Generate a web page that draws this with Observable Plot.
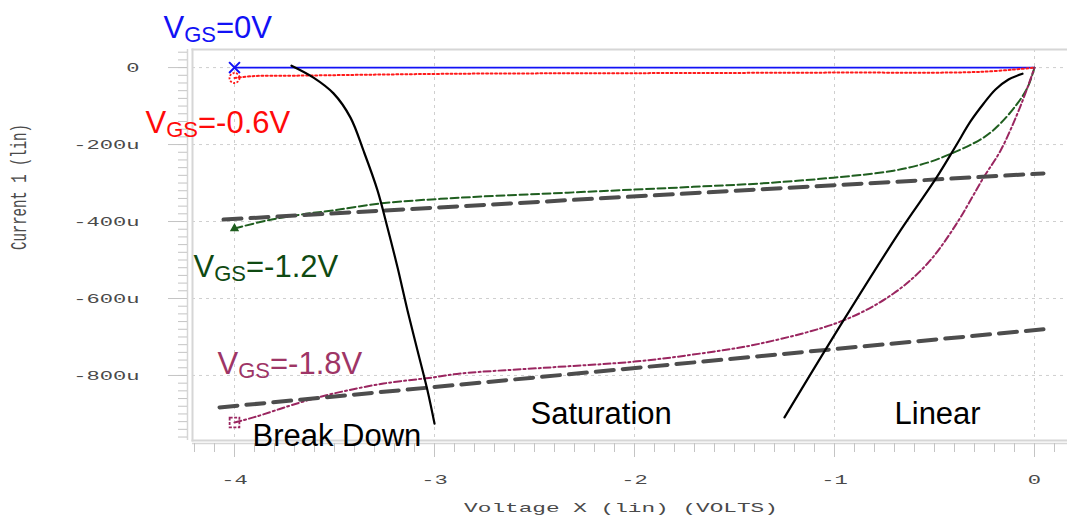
<!DOCTYPE html>
<html><head><meta charset="utf-8">
<script src="https://cdn.jsdelivr.net/npm/d3@7"></script>
<script src="https://cdn.jsdelivr.net/npm/@observablehq/plot@0.6"></script>
<style>body{margin:0;background:#fff;}</style>
</head><body><div id="chart"></div>
<script>
// ---- axis ticks ----
const xMajor = [-4, -3, -2, -1, 0];
const xTickLabels = ["-4", "-3", "-2", "-1", "0"];
const yMajor = [0, -200, -400, -600, -800];
const yTickLabels = ["0", "-200u", "-400u", "-600u", "-800u"];
const xMinor = d3.range(-42, 2).map(i => i / 10);
const yMinor = d3.range(2, -49, -1).map(i => i * 20);

// ---- series (V in volts, I in uA) ----
const vgs0V = [-4, 0];
const vgs0I = [0, 0];
const vgs06V = [-4, -3.9, -3.7, -2.9, -2, -1, -0.27, 0];
const vgs06I = [-27, -22, -21, -16, -14.5, -13, -11, 0];
const vgs12V = [-4, -3.835, -3.67, -3.505, -3.27, -2.87, -2.42, -2, -1.67, -1.37, -1.005, -0.705, -0.535, -0.405, -0.255, -0.17, -0.085, -0.035, 0];
const vgs12I = [-418, -397, -382, -371, -353, -338, -327, -317, -309, -301, -286, -268, -247, -221, -182, -145, -93, -52, 0];
const vgs18V = [-4, -3.905, -3.67, -3.505, -3.255, -3.005, -2.87, -2.42, -2, -1.67, -1.37, -0.955, -0.705, -0.535, -0.395, -0.255, -0.17, -0.085, -0.035, 0];
const vgs18I = [-922, -909, -870, -847, -821, -805, -795, -779, -764, -743, -717, -657, -587, -509, -410, -286, -216, -119, -52, 0];

// ---- annotation lines ----
const tangent12V = [-4.055, 0.045];
const tangent12I = [-395, -275];
const tangent18V = [-4.075, 0.045];
const tangent18I = [-883, -680];
const breakV = [-3.715, -3.605, -3.505, -3.42, -3.355, -3.285, -3.235, -3.185, -3.135, -3.085, -3.035, -3.0];
const breakI = [5, -26, -67, -130, -216, -319, -416, -519, -631, -735, -839, -925];
const linearV = [-1.25, -0.955, -0.67, -0.495, -0.395, -0.32, -0.255, -0.195, -0.13, -0.06];
const linearI = [-909, -657, -423, -290, -205, -140, -94, -57, -31, -16];

// ---- labels ----
const labelText = ["VGS=0V", "VGS=-0.6V", "VGS=-1.2V", "VGS=-1.8V", "Break Down", "Saturation", "Linear"];
const labelV = [-4.355, -4.445, -4.205, -4.085, -3.91, -2.52, -0.70];
const labelI = [78, -171, -545, -795, -982, -927, -927];
const labelColor = ["#1212f5", "#ff0a0a", "#0f4a12", "#9e3566", "#000", "#000", "#000"];

const zip = (xs, ys) => xs.map((x, i) => ({x, y: ys[i]}));
const mono = "'Liberation Mono', 'Courier New', monospace";
const sans = "'Liberation Sans', Arial, sans-serif";
const axisGray = "#c4c4c4";

const labelMarks = labelText.map((t, i) => Plot.text([{x: labelV[i], y: labelI[i], t}], {
  x: "x", y: "y", text: "t", fill: labelColor[i], fontSize: 31, fontFamily: sans,
  textAnchor: "start", lineAnchor: "bottom"
}));

const plot = Plot.plot({
  width: 1067, height: 520,
  marginLeft: 192, marginRight: 0, marginTop: 49, marginBottom: 80,
  x: {domain: [-4.21, 0.165], label: null},
  y: {domain: [-969, 47], label: null},
  style: {background: "white", fontFamily: mono, overflow: "visible"},
  marks: [
    Plot.gridX(xMajor, {stroke: "#cfcfcf", strokeOpacity: 1, strokeDasharray: "3,4"}),
    Plot.gridY(yMajor, {stroke: "#cfcfcf", strokeOpacity: 1, strokeDasharray: "3,4"}),
    Plot.frame({anchor: "top", stroke: "#d6d6d6", strokeWidth: 2}),
    Plot.frame({anchor: "left", stroke: "#d6d6d6", strokeWidth: 2}),
    Plot.frame({anchor: "bottom", stroke: "#d6d6d6", strokeWidth: 2}),
    Plot.ruleX([-4.21], {dx: -5, stroke: "#d6d6d6", strokeWidth: 1.5}),
    Plot.ruleY([-969], {dy: 3, stroke: "#d6d6d6", strokeWidth: 1.5}),
    Plot.axisX(xMinor, {tickSize: 9, dy: 3, tickFormat: () => "", stroke: axisGray, label: null}),
    Plot.axisX(xMajor, {tickSize: 14, dy: 3, tickPadding: 17, stroke: axisGray, fill: "#4a4a4a", fontSize: 13,
      tickFormat: d => xTickLabels[xMajor.indexOf(d)], label: null}),
    Plot.axisY(yMinor, {tickSize: 9, dx: -5, tickFormat: () => "", stroke: axisGray, label: null}),
    Plot.axisY(yMajor, {tickSize: 19, dx: -5, tickPadding: 29, stroke: axisGray, fill: "#4a4a4a", fontSize: 13,
      tickFormat: d => yTickLabels[yMajor.indexOf(d)], label: null}),
    Plot.text(["Voltage X (lin) (VOLTS)"], {frameAnchor: "bottom", dx: -9, dy: 71, fill: "#4a4a4a", fontSize: 13, fontFamily: mono}),
    Plot.text(["Current 1 (lin)"], {frameAnchor: "left", dx: -174, dy: 5, rotate: -90, fill: "#4a4a4a", fontSize: 14, fontFamily: mono}),
    // series
    Plot.line(zip(vgs0V, vgs0I), {x: "x", y: "y", stroke: "#1212f5", strokeWidth: 1.8}),
    Plot.line(zip(vgs06V, vgs06I), {x: "x", y: "y", stroke: "#ff1a1a", strokeWidth: 2, strokeDasharray: "2,2.5", curve: "catmull-rom"}),
    Plot.line(zip(vgs12V, vgs12I), {x: "x", y: "y", stroke: "#1f5e1f", strokeWidth: 2, strokeDasharray: "8,3.5", curve: "catmull-rom"}),
    Plot.line(zip(vgs18V, vgs18I), {x: "x", y: "y", stroke: "#9a2660", strokeWidth: 2, strokeDasharray: "7,3,2,3", curve: "catmull-rom"}),
    Plot.dot([{x: vgs0V[0], y: vgs0I[0]}], {x: "x", y: "y", symbol: "times", r: 5, stroke: "#1212f5", strokeWidth: 2}),
    Plot.dot([{x: vgs06V[0], y: vgs06I[0]}], {x: "x", y: "y", symbol: "circle", r: 5, stroke: "#ff1a1a", strokeWidth: 1.8, strokeDasharray: "2,1.5", fill: "none"}),
    Plot.dot([{x: vgs12V[0], y: vgs12I[0]}], {x: "x", y: "y", symbol: "triangle", r: 2.5, fill: "#1f5e1f", stroke: "#1f5e1f"}),
    Plot.dot([{x: vgs18V[0], y: vgs18I[0]}], {x: "x", y: "y", symbol: "square", r: 5.5, stroke: "#9a2660", strokeWidth: 1.8, strokeDasharray: "3,1.5", fill: "none"}),
    // annotations
    Plot.line(zip(tangent12V, tangent12I), {x: "x", y: "y", stroke: "#4d4d4d", strokeWidth: 4, strokeDasharray: "18,9"}),
    Plot.line(zip(tangent18V, tangent18I), {x: "x", y: "y", stroke: "#4d4d4d", strokeWidth: 4, strokeDasharray: "18,9"}),
    Plot.line(zip(breakV, breakI), {x: "x", y: "y", stroke: "#000", strokeWidth: 2.2, curve: "catmull-rom"}),
    Plot.line(zip(linearV, linearI), {x: "x", y: "y", stroke: "#000", strokeWidth: 2.2, curve: "catmull-rom"}),
    ...labelMarks
  ]
});

document.getElementById("chart").appendChild(plot);

const svg = d3.select(plot);
// the original's monospace text is stretched horizontally
function stretch(sel, scale) {
  sel.each(function() {
    const el = d3.select(this);
    let tr = el.attr("transform");
    if (!tr) {
      const x = +el.attr("x") || 0, y = +el.attr("y") || 0;
      tr = `translate(${x},${y})`;
      el.attr("x", null).attr("y", null);
    }
    el.attr("transform", `${tr} ${scale}`);
  });
}
stretch(svg.selectAll('g[aria-label$="tick label"] text'), "scale(1.7,1)");
stretch(svg.selectAll("text").filter(function() { return this.textContent === "Voltage X (lin) (VOLTS)"; }), "scale(1.75,1)");
stretch(svg.selectAll("text").filter(function() { return this.textContent === "Current 1 (lin)"; }), "scale(1,1.6)");

// subscripts for V_GS labels
svg.selectAll("text").filter(function() { return this.textContent.startsWith("VGS"); })
  .each(function() {
    const rest = this.textContent.slice(3);
    const t = d3.select(this);
    t.text("V");
    t.append("tspan").attr("font-size", "22").attr("dy", "4").text("GS");
    t.append("tspan").attr("dy", "-4").text(rest);
  });
</script>
</body></html>
